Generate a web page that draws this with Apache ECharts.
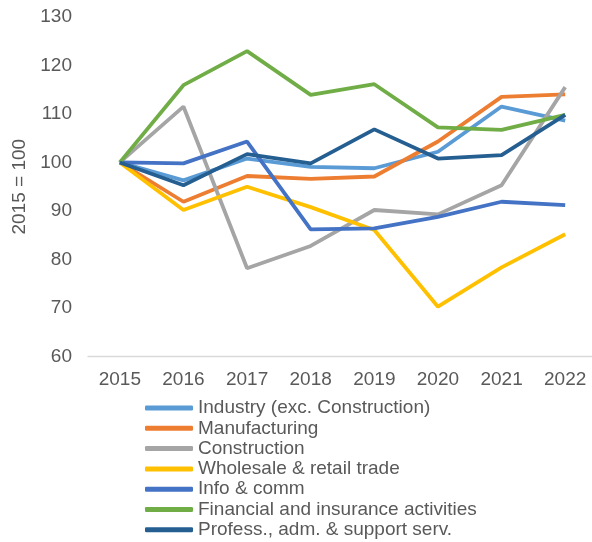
<!DOCTYPE html>
<html><head><meta charset="utf-8">
<script src="https://cdn.jsdelivr.net/npm/echarts@6/dist/echarts.min.js"></script>
<style>html,body{margin:0;padding:0;background:#fff}#c{width:592px;height:542px}</style>
</head><body><div id="c"></div>
<script>
const years = ['2015','2016','2017','2018','2019','2020','2021','2022'];
const industry = [100, 96.3, 100.8, 99.1, 98.8, 102.2, 111.5, 108.6];
const manufacturing = [100, 91.9, 97.2, 96.6, 97.1, 104.3, 113.5, 114.0];
const construction = [100, 111.5, 78.2, 82.8, 90.2, 89.3, 95.3, 115.5];
const wholesale = [100, 90.2, 95.0, 90.8, 86.1, 70.3, 78.4, 85.2];
const infoComm = [100, 99.8, 104.3, 86.2, 86.4, 88.8, 91.9, 91.2];
const financial = [100, 115.9, 122.9, 113.9, 116.1, 107.2, 106.7, 109.8];
const profess = [100, 95.3, 101.7, 99.8, 106.8, 100.8, 101.5, 109.8];
const seriesNames = ['Industry (exc. Construction)','Manufacturing','Construction','Wholesale & retail trade','Info & comm','Financial and insurance activities','Profess., adm. & support serv.'];
const seriesData = [industry, manufacturing, construction, wholesale, infoComm, financial, profess];
const colors = ['#5B9BD5','#ED7D31','#A5A5A5','#FFC000','#4472C4','#70AD47','#255E91'];
const yTicks = {min: 60, max: 130, interval: 10};

const chart = echarts.init(document.getElementById('c'), null, {renderer: 'canvas'});
const font = 'Liberation Sans, Arial, sans-serif';
chart.setOption({
  animation: false,
  textStyle: {fontFamily: font},
  color: colors,
  grid: {left: 88, width: 509, top: 16.7, bottom: 185.3, containLabel: false, outerBoundsMode: 'none'},
  xAxis: {
    type: 'category', data: years, boundaryGap: true,
    axisLine: {lineStyle: {color: '#D9D9D9', width: 1.3}},
    axisTick: {show: false},
    axisLabel: {color: '#595959', fontSize: 19, margin: 14, fontFamily: font}
  },
  yAxis: {
    type: 'value', min: yTicks.min, max: yTicks.max, interval: yTicks.interval,
    splitLine: {show: false}, axisLine: {show: false}, axisTick: {show: false},
    axisLabel: {color: '#595959', fontSize: 19, margin: 16, fontFamily: font},
    name: '2015 = 100', nameLocation: 'middle', nameRotate: 90, nameGap: 55,
    nameTextStyle: {color: '#595959', fontSize: 19, fontFamily: font}
  },
  legend: {
    orient: 'vertical', left: 145, top: 398, padding: 0,
    icon: 'roundRect', itemWidth: 48, itemHeight: 5, itemGap: 0.3,
    textStyle: {color: '#595959', fontSize: 19, lineHeight: 20, fontFamily: font},
    data: seriesNames
  },
  series: seriesNames.map((n, i) => ({
    name: n, type: 'line', data: seriesData[i], symbol: 'none',
    lineStyle: {width: 3.8, color: colors[i]}, itemStyle: {color: colors[i]}
  }))
});
</script></body></html>
